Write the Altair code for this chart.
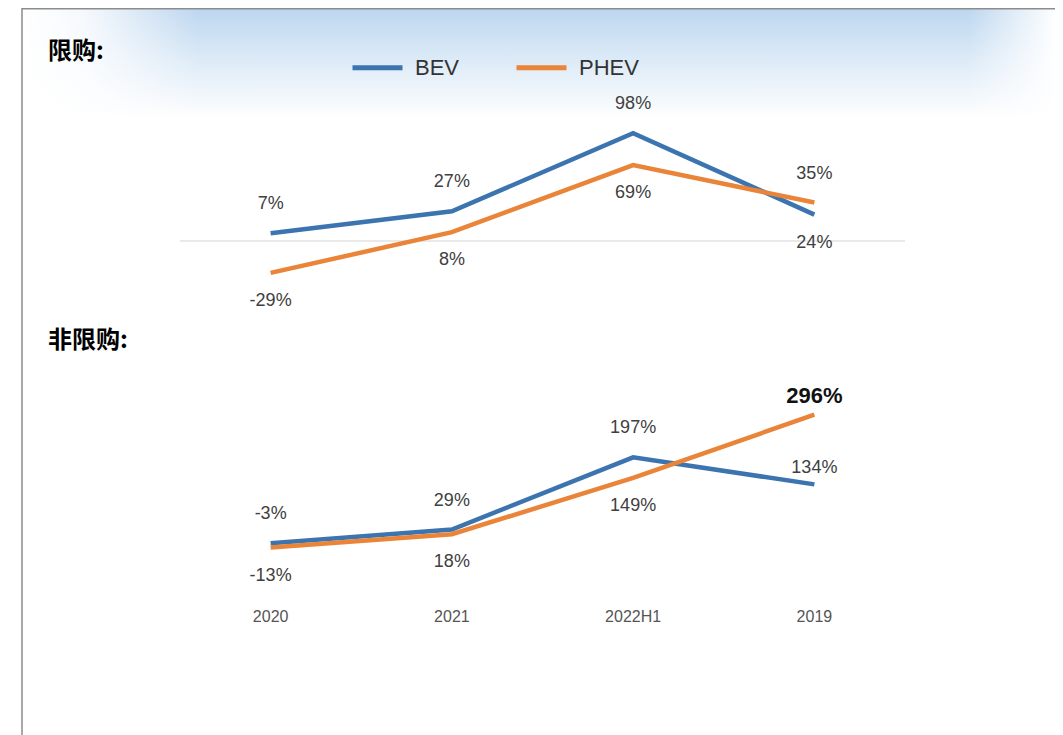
import altair as alt
import pandas as pd

categories = ["2020", "2021", "2022H1", "2019"]
series_names = ["BEV", "PHEV"]
limited_bev = [7, 27, 98, 24]
limited_phev = [-29, 8, 69, 35]
nonlimited_bev = [-3, 29, 197, 134]
nonlimited_phev = [-13, 18, 149, 296]
# label placement relative to point
limited_bev_pos = ["above", "above", "above", "below"]
limited_phev_pos = ["below", "below", "below", "above"]
nonlimited_bev_pos = ["above", "above", "above", "near"]
nonlimited_phev_pos = ["below", "below", "below", "emph"]

BLUE = "#3C74B0"
ORANGE = "#E98438"
FONT = "Liberation Sans"
CJK = "Noto Sans CJK SC"

def frame(vals, series, pos):
    return pd.DataFrame({"cat": categories, "series": series, "value": vals, "pos": pos,
                         "label": [f"{v}%" for v in vals]})

df_up = pd.concat([frame(limited_bev, "BEV", limited_bev_pos),
                   frame(limited_phev, "PHEV", limited_phev_pos)])
df_lo = pd.concat([frame(nonlimited_bev, "BEV", nonlimited_bev_pos),
                   frame(nonlimited_phev, "PHEV", nonlimited_phev_pos)])

xenc = alt.X("cat:N", sort=categories, axis=None,
             scale=alt.Scale(type="point", range=[172, 897], padding=0.5))

color_scale = alt.Scale(domain=series_names, range=[BLUE, ORANGE])

def panel(df, ydomain, yrange, legend, rule):
    yenc = alt.Y("value:Q", axis=None, scale=alt.Scale(domain=ydomain, range=yrange, nice=False, zero=False))
    base = alt.Chart(df)
    line = base.mark_line(strokeWidth=4.5).encode(
        x=xenc, y=yenc,
        color=alt.Color("series:N", scale=color_scale, legend=legend, sort=series_names),
        detail="series:N")
    def txt(pos, dy, **kw):
        style = dict(font=FONT, fontSize=18, color="#404040")
        style.update(kw)
        return base.transform_filter(alt.datum.pos == pos).mark_text(dy=dy, **style).encode(
            x=xenc, y=yenc, text="label:N")
    layers = []
    if rule:
        layers.append(alt.Chart(pd.DataFrame({"z": [0]})).mark_rule(color="#D3D3D3", strokeWidth=1).encode(
            y=alt.Y("z:Q", axis=None, scale=alt.Scale(domain=ydomain, range=yrange, nice=False, zero=False)),
            x=alt.value(172), x2=alt.value(897)))
    layers += [line, txt("above", -29), txt("below", 28), txt("near", -16),
               txt("emph", -19, fontSize=22, fontWeight="bold", color="#111111")]
    return alt.layer(*layers)

legend = alt.Legend(orient="none", legendX=342, legendY=32, direction="horizontal", title=None,
                    symbolType="stroke", symbolSize=2500, symbolStrokeWidth=5,
                    labelFontSize=22, labelFont=FONT, labelColor="#333333",
                    labelOffset=10, columnPadding=46)

upper = panel(df_up, [0, 100], [233, 123], legend, True)
lower = panel(df_lo, [0, 300], [534, 405], None, False)

one = pd.DataFrame({"a": [0]})
bg = alt.Chart(one).mark_rect(color=alt.Gradient(
    gradient="linear", x1=0, x2=0, y1=0, y2=1,
    stops=[alt.GradientStop(color="#BCD6EF", offset=0),
           alt.GradientStop(color="#DCEAF7", offset=0.45),
           alt.GradientStop(color="#FFFFFF", offset=1)])).encode(
    x=alt.value(14), x2=alt.value(1049), y=alt.value(0), y2=alt.value(112))
fade_l = alt.Chart(one).mark_rect(color=alt.Gradient(
    gradient="linear", x1=0, x2=1, y1=0, y2=0,
    stops=[alt.GradientStop(color="rgba(255,255,255,1)", offset=0),
           alt.GradientStop(color="rgba(255,255,255,0.85)", offset=0.35),
           alt.GradientStop(color="rgba(255,255,255,0)", offset=1)])).encode(
    x=alt.value(14), x2=alt.value(190), y=alt.value(0), y2=alt.value(115))
fade_r = alt.Chart(one).mark_rect(color=alt.Gradient(
    gradient="linear", x1=0, x2=1, y1=0, y2=0,
    stops=[alt.GradientStop(color="rgba(255,255,255,0)", offset=0),
           alt.GradientStop(color="rgba(255,255,255,1)", offset=1)])).encode(
    x=alt.value(960), x2=alt.value(1049), y=alt.value(0), y2=alt.value(115))
border = alt.Chart(one).mark_rect(fill=None, stroke="#8C8C8C", strokeWidth=1.5).encode(
    x=alt.value(14), x2=alt.value(1049), y=alt.value(0.75), y2=alt.value(760))

title1 = alt.Chart(pd.DataFrame({"t": ["限购:"]})).mark_text(
    font=CJK, fontSize=24, fontWeight="bold", color="#000000", align="left", baseline="middle").encode(
    text="t:N", x=alt.value(40), y=alt.value(44))
title2 = alt.Chart(pd.DataFrame({"t": ["非限购:"]})).mark_text(
    font=CJK, fontSize=24, fontWeight="bold", color="#000000", align="left", baseline="middle").encode(
    text="t:N", x=alt.value(40), y=alt.value(333))

xlab = alt.Chart(pd.DataFrame({"cat": categories})).mark_text(
    font=FONT, fontSize=16, color="#555555", baseline="middle").encode(
    x=xenc, y=alt.value(609), text="cat:N")

chart = alt.layer(bg, fade_l, fade_r, border, title1, title2, upper, lower, xlab).resolve_scale(
    y="independent").properties(
    width=1047, height=727, padding=0, autosize=alt.AutoSizeParams(type="none")
).configure_view(stroke=None)

chart.save("out.html", embed_options={"renderer": "svg", "actions": False})
